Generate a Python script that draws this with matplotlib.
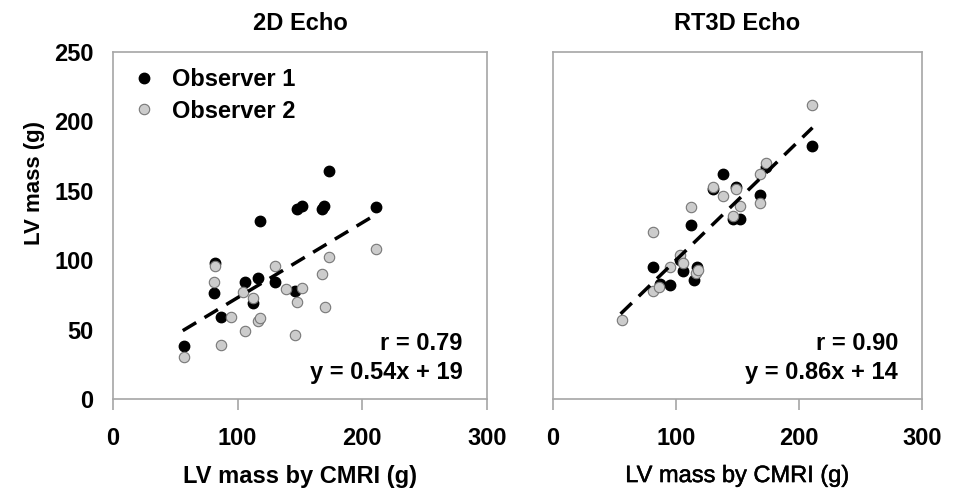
import matplotlib.pyplot as plt
import matplotlib.patheffects as pe
import numpy as np

plt.rcParams['font.family'] = ['Liberation Sans', 'DejaVu Sans']

# 2D Echo panel
x2d_obs1 = [57, 81, 82, 87, 106, 112, 116, 118, 130, 146, 148, 152, 168, 169, 173, 211]
y2d_obs1 = [38, 76, 98, 59, 84, 69, 87, 128, 84, 78, 137, 139, 137, 139, 164, 138]
x2d_obs2 = [57, 82, 81, 87, 95, 104, 106, 112, 116, 118, 130, 139, 148, 152, 146, 168, 173, 170, 211]
y2d_obs2 = [30, 96, 84, 39, 59, 77, 49, 73, 56, 58, 96, 79, 70, 80, 46, 90, 102, 66, 108]

# RT3D Echo panel
x3d_obs1 = [81, 87, 95, 106, 103, 112, 115, 117, 138, 130, 149, 146, 152, 168, 173, 211]
y3d_obs1 = [95, 83, 82, 92, 100, 125, 86, 95, 162, 151, 153, 130, 130, 147, 167, 182]
x3d_obs2 = [56, 81, 81, 86, 95, 103, 106, 112, 116, 118, 130, 138, 149, 152, 146, 168, 168, 173, 211]
y3d_obs2 = [57, 120, 78, 81, 95, 104, 98, 138, 91, 93, 153, 146, 151, 139, 132, 141, 162, 170, 212]

fit_2d = (0.54, 19)
fit_3d = (0.86, 14)

fig = plt.figure(figsize=(9.55, 4.93), dpi=100)
ax1 = fig.add_axes([0.1183, 0.1907, 0.3916, 0.7039])
ax2 = fig.add_axes([0.579, 0.1907, 0.3864, 0.7039])

panels = [
    (ax1, x2d_obs1, y2d_obs1, x2d_obs2, y2d_obs2, fit_2d, '2D Echo', 'r = 0.79', 'y = 0.54x + 19'),
    (ax2, x3d_obs1, y3d_obs1, x3d_obs2, y3d_obs2, fit_3d, 'RT3D Echo', 'r = 0.90', 'y = 0.86x + 14'),
]

for ax, xa, ya, xb, yb, fit, title, rtxt, eqtxt in panels:
    ax.plot(xa, ya, 'o', ms=7.5, mfc='black', mec='black', label='Observer 1', zorder=3)
    ax.plot(xb, yb, 'o', ms=7.5, mfc='#cccccc', mec='#777777', mew=0.8, label='Observer 2', zorder=3)
    xs = np.array([min(xa + xb) - 1, max(xa + xb)])
    ax.plot(xs, fit[0] * xs + fit[1], color='black', lw=2.5, ls=(0, (4.5, 2.8)), zorder=4)
    ax.set_xlim(0, 300)
    ax.set_ylim(0, 250)
    ax.set_xticks([0, 100, 200, 300])
    ax.set_yticks([0, 50, 100, 150, 200, 250])
    for s in ax.spines.values():
        s.set_color('#a6a6a6')
        s.set_linewidth(1.2)
    ax.tick_params(axis='x', direction='out', length=8, width=1.2, color='#a6a6a6', pad=12, labelsize=17)
    ax.tick_params(axis='y', length=0, pad=14, labelsize=17)
    ax.set_title(title, fontsize=17, fontweight='bold', pad=16)
    ax.text(0.935, 0.161, rtxt, transform=ax.transAxes, ha='right', va='center', fontsize=17, fontweight='bold')
    ax.text(0.935, 0.075, eqtxt, transform=ax.transAxes, ha='right', va='center', fontsize=17, fontweight='bold')
    for lab in ax.get_xticklabels() + ax.get_yticklabels():
        lab.set_fontweight('bold')

ax1.set_xlabel('LV mass by CMRI (g)', fontsize=17, fontweight='bold', labelpad=11)
ax1.set_ylabel('LV mass (g)', fontsize=16, fontweight='bold')
ax1.yaxis.set_label_coords(-0.182, 0.622)
ax2.set_xlabel('LV mass by CMRI (g)', fontsize=17, labelpad=11,
               path_effects=[pe.withStroke(linewidth=0.35, foreground='black')])
ax2.set_yticklabels([])

ax1.legend(loc='upper left', frameon=False, prop={'weight': 'bold', 'size': 17},
           handletextpad=0.6, borderaxespad=0.3, labelspacing=0.35, handlelength=1.2)

fig.savefig('out.png', dpi=100)
